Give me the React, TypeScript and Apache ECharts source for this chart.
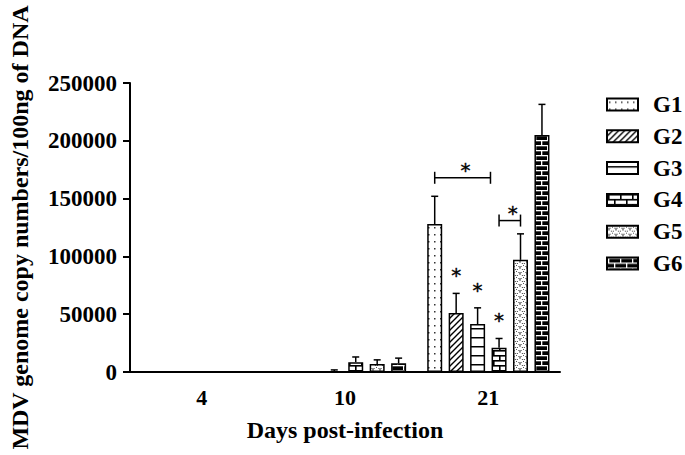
import React, { useEffect, useRef } from 'react';
import * as echarts from 'echarts';

// ---------- data ----------
const categories = ['4', '10', '21'];
const groupNames = ['G1', 'G2', 'G3', 'G4', 'G5', 'G6'];

const g1Values = [0, 0, 128000];
const g1Errors = [0, 0, 24000];
const g2Values = [0, 0, 51000];
const g2Errors = [0, 0, 17000];
const g3Values = [0, 300, 41500];
const g3Errors = [0, 1500, 14000];
const g4Values = [0, 8500, 21000];
const g4Errors = [0, 4500, 8000];
const g5Values = [0, 7000, 97000];
const g5Errors = [0, 3500, 22500];
const g6Values = [0, 7500, 205000];
const g6Errors = [0, 4500, 26500];

const groupValues = [g1Values, g2Values, g3Values, g4Values, g5Values, g6Values];
const groupErrors = [g1Errors, g2Errors, g3Errors, g4Errors, g5Errors, g6Errors];

const yMin = 0;
const yMax = 250000;
const yInterval = 50000;

// significance stars: [category index, group index]
const starMarks = [
  [2, 1],
  [2, 2],
  [2, 3],
];
// brackets: [category index, from group slot, to group slot, level]
const bracketMarks = [
  [2, 0, 2.6, 168000],
  [2, 3, 4, 131000],
];

// ---------- styles ----------
const BAR_W = 15;
const BAR_GAP = 6.45;
const SLOT = BAR_W + BAR_GAP;
const SERIF = '"Liberation Serif", "Times New Roman", serif';
const STAR_FONT = '20px "DejaVu Sans", sans-serif';

function tile(w: number, h: number, draw: (c: CanvasRenderingContext2D) => void) {
  const cv = document.createElement('canvas');
  cv.width = w;
  cv.height = h;
  const ctx = cv.getContext('2d')!;
  draw(ctx);
  return { image: cv, repeat: 'repeat', imageWidth: w, imageHeight: h } as any;
}

function makePatterns() {
  const dots = tile(6, 7, (c) => {
    c.fillStyle = '#fff';
    c.fillRect(0, 0, 6, 7);
    c.fillStyle = '#333';
    c.fillRect(2, 3, 1.5, 1.5);
  });
  const diag = tile(6, 6, (c) => {
    c.fillStyle = '#fff';
    c.fillRect(0, 0, 6, 6);
    c.strokeStyle = '#000';
    c.lineWidth = 1.4;
    c.beginPath();
    c.moveTo(-1, 7);
    c.lineTo(7, -1);
    c.moveTo(-1, 1);
    c.lineTo(1, -1);
    c.moveTo(5, 7);
    c.lineTo(7, 5);
    c.stroke();
  });
  const hlines = tile(4, 9, (c) => {
    c.fillStyle = '#fff';
    c.fillRect(0, 0, 4, 9);
    c.fillStyle = '#000';
    c.fillRect(0, 4, 4, 1.5);
  });
  const brick = (bg: string, fg: string, lw: number) =>
    tile(12, 10, (c) => {
      c.fillStyle = bg;
      c.fillRect(0, 0, 12, 10);
      c.fillStyle = fg;
      c.fillRect(0, 0, 12, lw);
      c.fillRect(0, 5, 12, lw);
      c.fillRect(1, 0, lw, 5);
      c.fillRect(7, 5, lw, 5);
    });
  const hearts = tile(7, 6, (c) => {
    c.fillStyle = '#fff';
    c.fillRect(0, 0, 7, 6);
    c.strokeStyle = '#444';
    c.lineWidth = 1;
    c.beginPath();
    c.arc(2, 2, 1.3, 0, Math.PI);
    c.stroke();
    c.beginPath();
    c.arc(5.5, 5, 1.3, 0, Math.PI);
    c.stroke();
    c.fillStyle = '#555';
    c.fillRect(5, 1, 1, 1);
    c.fillRect(1.5, 4, 1, 1);
  });
  return [dots, diag, hlines, brick('#fff', '#000', 1.6), hearts, brick('#000', '#fff', 1.3)];
}

function slotOffset(slot: number) {
  return (slot - 2.5) * SLOT;
}

function starText(x: number, y: number) {
  return {
    type: 'text',
    x,
    y,
    style: {
      text: '*',
      fill: '#000',
      stroke: '#000',
      lineWidth: 0.4,
      font: STAR_FONT,
      align: 'center',
      verticalAlign: 'middle',
    },
  };
}

export default function App() {
  const ref = useRef<HTMLDivElement>(null);

  useEffect(() => {
    if (!ref.current) return;
    const chart = echarts.init(ref.current, undefined, { renderer: 'svg' });
    const patterns = makePatterns();

    const barSeries = groupNames.map((name, gi) => ({
      name,
      type: 'bar',
      data: groupValues[gi],
      barWidth: BAR_W,
      barGap: (BAR_GAP / BAR_W) * 100 + '%',
      itemStyle: { color: patterns[gi], borderColor: '#000', borderWidth: 1.5 },
      z: 3,
    }));

    const errSeries = groupNames.map((name, gi) => ({
      type: 'custom',
      name: name + '-err',
      data: groupValues[gi].map((v, i) => [i, v, groupErrors[gi][i]]),
      encode: { x: 0, y: 1 },
      itemStyle: { color: '#000' },
      z: 2,
      silent: true,
      renderItem: (params: any, api: any) => {
        const cat = api.value(0);
        const v = api.value(1);
        const e = api.value(2);
        if (!e) return { type: 'group', children: [] };
        const p0 = api.coord([cat, v]);
        const p1 = api.coord([cat, v + e]);
        const x = p0[0] + slotOffset(gi);
        const st = { stroke: '#000', lineWidth: 1.5 };
        return {
          type: 'group',
          children: [
            { type: 'line', shape: { x1: x, y1: p0[1], x2: x, y2: p1[1] }, style: st },
            { type: 'line', shape: { x1: x - 3.5, y1: p1[1], x2: x + 3.5, y2: p1[1] }, style: st },
          ],
        };
      },
    }));

    const starSeries = {
      type: 'custom',
      name: 'stars',
      data: starMarks.map(([c, g]) => [c, groupValues[g][c] + groupErrors[g][c], g]),
      encode: { x: 0, y: 1 },
      itemStyle: { color: '#000' },
      silent: true,
      z: 5,
      renderItem: (params: any, api: any) => {
        const p = api.coord([api.value(0), api.value(1)]);
        const g = api.value(2);
        return starText(p[0] + slotOffset(g), p[1] - 18);
      },
    };

    const bracketSeries = {
      type: 'custom',
      name: 'brackets',
      data: bracketMarks.map(([c, a, b, lv]) => [c, lv, a, b]),
      encode: { x: 0, y: 1 },
      itemStyle: { color: '#000' },
      silent: true,
      z: 5,
      renderItem: (params: any, api: any) => {
        const p = api.coord([api.value(0), api.value(1)]);
        const xa = p[0] + slotOffset(api.value(2));
        const xb = p[0] + slotOffset(api.value(3));
        const y = p[1];
        const st = { stroke: '#000', lineWidth: 1.5 };
        return {
          type: 'group',
          children: [
            { type: 'line', shape: { x1: xa, y1: y, x2: xb, y2: y }, style: st },
            { type: 'line', shape: { x1: xa, y1: y - 6, x2: xa, y2: y + 6 }, style: st },
            { type: 'line', shape: { x1: xb, y1: y - 6, x2: xb, y2: y + 6 }, style: st },
            starText((xa + xb) / 2 + 3, y - 8),
          ],
        };
      },
    };

    chart.setOption({
      animation: false,
      backgroundColor: '#fff',
      grid: { left: 125, right: 125, top: 83, bottom: 83 },
      legend: {
        data: groupNames,
        orient: 'vertical',
        left: 601,
        top: 87.5,
        icon: 'rect',
        itemWidth: 31,
        itemHeight: 12,
        itemGap: 7.8,
        selectedMode: false,
        textStyle: {
          fontFamily: SERIF,
          fontWeight: 'bold',
          fontSize: 23,
          color: '#000',
          lineHeight: 24,
          padding: [0, 0, 0, 10],
        },
      },
      xAxis: {
        type: 'category',
        data: categories,
        name: 'Days post-infection',
        nameLocation: 'middle',
        nameGap: 46,
        nameTextStyle: { fontFamily: SERIF, fontWeight: 'bold', fontSize: 24, color: '#000' },
        axisLine: { lineStyle: { color: '#000', width: 2 } },
        axisTick: { alignWithLabel: true, length: 6, lineStyle: { color: '#000', width: 2 } },
        axisLabel: { fontFamily: SERIF, fontWeight: 'bold', fontSize: 22, color: '#000', margin: 14 },
      },
      yAxis: {
        type: 'value',
        min: yMin,
        max: yMax,
        interval: yInterval,
        name: 'MDV genome copy numbers/100ng of DNA',
        nameLocation: 'middle',
        nameGap: 98,
        nameTextStyle: { fontFamily: SERIF, fontWeight: 'bold', fontSize: 24, color: '#000' },
        axisLine: { show: true, lineStyle: { color: '#000', width: 2 } },
        axisTick: { show: true, length: 7, lineStyle: { color: '#000', width: 2 } },
        axisLabel: {
          fontFamily: SERIF,
          fontWeight: 'bold',
          fontSize: 23,
          color: '#000',
          margin: 13,
          formatter: (v: number) => String(v),
        },
        splitLine: { show: false },
      },
      series: [...barSeries, ...errSeries, starSeries, bracketSeries],
    });

    return () => chart.dispose();
  }, []);

  return (
    <div
      ref={ref}
      style={{ position: 'fixed', left: 0, top: 0, width: 685, height: 455, background: '#fff' }}
    />
  );
}
